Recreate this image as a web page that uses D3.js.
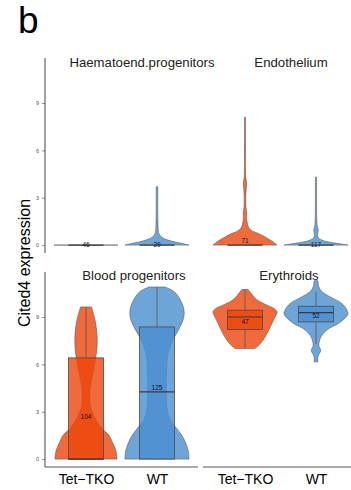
<!DOCTYPE html>
<html><head><meta charset="utf-8">
<script src="https://cdn.jsdelivr.net/npm/d3@7"></script>
<style>body{margin:0;background:#fff}svg{display:block}text{font-family:"Liberation Sans",Arial,Helvetica,sans-serif}</style>
</head><body>
<svg id="c" width="351" height="490"></svg>
<script>
// ---------- data ----------
const groups = ["Tet\u2212TKO", "WT"];
const panels = ["Haematoend.progenitors", "Endothelium", "Blood progenitors", "Erythroids"];
const yTicks = [0, 3, 6, 9];
const fillColors = ["#EC450A", "#4A8FD0"];

// violin profiles: [expression value, relative density (max = 1)]
const haemTKO = [[0, 1], [0, 1]];
const haemWT = [[0,1],[0.1,0.8],[0.2,0.56],[0.3,0.37],[0.45,0.19],[0.6,0.1],[0.8,0.05],[1.5,0.03],[3.7,0.025]];
const endoTKO = [[0,1],[0.2,0.88],[0.4,0.72],[0.6,0.56],[0.75,0.4],[0.9,0.22],[1.1,0.12],[1.4,0.07],[1.8,0.05],[2.0,0.055],[2.4,0.03],[3.0,0.025],[3.6,0.04],[3.9,0.05],[4.3,0.025],[5,0.018],[8.1,0.015]];
const endoWT = [[0,1],[0.1,0.7],[0.2,0.4],[0.3,0.2],[0.45,0.08],[0.6,0.05],[0.8,0.06],[0.95,0.07],[1.2,0.04],[1.6,0.025],[4.3,0.02]];
const bloodTKO = [[0,0.97],[0.5,0.94],[1,0.84],[1.5,0.72],[2,0.47],[2.5,0.31],[3,0.19],[3.5,0.125],[4,0.12],[4.5,0.13],[5,0.17],[5.5,0.22],[6,0.27],[6.5,0.31],[7,0.34],[7.5,0.35],[8,0.34],[8.5,0.31],[9,0.26],[9.64,0.17]];
const bloodWT = [[0,1],[0.5,0.98],[1,0.9],[1.5,0.78],[2,0.59],[2.5,0.41],[3,0.33],[3.5,0.3],[4,0.29],[5,0.29],[5.5,0.3],[6,0.31],[6.5,0.33],[7,0.39],[7.5,0.48],[8,0.62],[8.5,0.75],[9,0.84],[9.5,0.84],[10,0.75],[10.5,0.59],[10.7,0.47],[10.9,0.25]];
const eryTKO = [[7.0,0.31],[7.33,0.49],[7.95,0.69],[8.59,0.84],[9.0,0.94],[9.32,1],[9.55,0.9],[9.75,0.69],[10.0,0.44],[10.27,0.28],[10.5,0.19],[10.74,0.1]];
const eryWT = [[6.16,0.06],[6.5,0.06],[6.9,0.15],[7.1,0.1],[7.3,0.09],[7.76,0.16],[8.18,0.34],[8.6,0.71],[9.0,0.94],[9.22,1],[9.5,0.95],[9.85,0.81],[10.27,0.45],[10.6,0.19],[10.9,0.09],[11.3,0.06]];

// box stats per panel: [Tet-TKO, WT]
const q1s      = [[0,0],[0,0],[0,0],[8.2,8.69]];
const medians  = [[0,0],[0,0],[0,4.26],[9.0,9.28]];
const q3s      = [[0,0],[0,0],[6.41,8.37],[9.43,9.68]];
const whiskLo  = [[0,0],[0,0],[0,0],[7.0,7.3]];
const whiskHi  = [[0,0],[0,0],[9.64,10.9],[10.74,10.6]];
const counts   = [[46,29],[71,117],[104,125],[47,52]];
const labelAt  = [[0,0],[0.28,0],[2.7,4.55],[8.72,9.05]];
const violins  = [[haemTKO,haemWT],[endoTKO,endoWT],[bloodTKO,bloodWT],[eryTKO,eryWT]];

// ---------- layout ----------
const svg = d3.select("#c");
const panelX = [45, 203, 45, 203];
const panelW = [153, 148, 153, 148];
const panelTop = [58, 58, 272, 272];
const panelBot = [253, 253, 467, 467];
const titleX = [142, 291, 134, 289];
const titleY = [67, 67, 280, 280];
const xPoint = d3.scalePoint().domain(groups).range([41, 112]);
const wScale = d3.scaleLinear().domain([0, 1]).range([0, 32]);
const boxHalf = 17.5;

svg.append("text").attr("x", 18).attr("y", 33).attr("font-size", 37).attr("fill", "#000").text("b");
svg.append("text").attr("transform", "translate(30,263) rotate(-90)").attr("text-anchor", "middle")
  .attr("font-size", 16).attr("fill", "#000").text("Cited4 expression");

panels.forEach((p, pi) => {
  const x0 = panelX[pi] + (pi % 2 === 1 ? 1 : 0);
  const y = d3.scaleLinear().domain([-0.5, 11.85]).range([panelBot[pi], panelTop[pi]]);
  const g = svg.append("g");

  if (pi % 2 === 0) {
    const ax = g.append("g").attr("transform", `translate(${panelX[pi]},0)`)
      .call(d3.axisLeft(y).tickValues(yTicks).tickSize(3).tickPadding(3).tickFormat(d3.format("d")));
    ax.select(".domain").attr("d", `M0,${panelTop[pi]}V${panelBot[pi]}`).attr("stroke", "#444").attr("stroke-width", 1);
    ax.selectAll(".tick line").attr("stroke", "#444").attr("stroke-width", 0.6);
    ax.selectAll(".tick text").attr("font-size", 5.5).attr("fill", "#555").attr("font-family", "Liberation Sans, Arial, sans-serif");
  }
  if (pi >= 2) {
    const xs = d3.scalePoint().domain(groups).range([x0 + 41, x0 + 112]);
    const ax = g.append("g").attr("transform", `translate(0,${panelBot[pi]})`)
      .call(d3.axisBottom(xs).tickSize(0).tickPadding(7));
    ax.select(".domain").attr("d", `M${panelX[pi]},0H${panelX[pi] + panelW[pi]}`).attr("stroke", "#555").attr("stroke-width", 1);
    ax.selectAll(".tick text").attr("font-size", 14).attr("fill", "#000").attr("font-family", "Liberation Sans, Arial, sans-serif");
  }
  g.append("text").attr("x", titleX[pi]).attr("y", titleY[pi]).attr("text-anchor", "middle")
    .attr("font-size", 13.2).attr("fill", "#222").text(p);

  groups.forEach((grp, gi) => {
    const cx = x0 + xPoint(grp);
    const col = fillColors[gi];
    const area = d3.area().curve(d3.curveCatmullRom.alpha(0.5))
      .y(d => y(d[0])).x0(d => cx - wScale(d[1])).x1(d => cx + wScale(d[1]));
    const prof = violins[pi][gi];
    g.append("path").attr("d", area(prof) + "Z").attr("fill", col).attr("fill-opacity", 0.8)
      .attr("stroke", "#5a5a5a").attr("stroke-width", 0.6).attr("stroke-linejoin", "round");

    g.append("line").attr("x1", cx).attr("x2", cx).attr("y1", y(q3s[pi][gi])).attr("y2", y(whiskHi[pi][gi]))
      .attr("stroke", "#555").attr("stroke-width", 0.8);
    g.append("line").attr("x1", cx).attr("x2", cx).attr("y1", y(q1s[pi][gi])).attr("y2", y(whiskLo[pi][gi]))
      .attr("stroke", "#555").attr("stroke-width", 0.8);
    const yt = y(q3s[pi][gi]), yb = y(q1s[pi][gi]);
    g.append("rect").attr("x", cx - boxHalf).attr("width", boxHalf * 2).attr("y", yt).attr("height", yb - yt)
      .attr("fill", col).attr("fill-opacity", yb - yt > 0 ? 0.8 : 0)
      .attr("stroke", "#4a4a4a").attr("stroke-width", 0.8);
    g.append("line").attr("x1", cx - boxHalf).attr("x2", cx + boxHalf)
      .attr("y1", y(medians[pi][gi])).attr("y2", y(medians[pi][gi]))
      .attr("stroke", "#3a3a3a").attr("stroke-width", 1.2);
    g.append("text").attr("x", cx).attr("y", y(labelAt[pi][gi])).attr("dy", "0.35em")
      .attr("text-anchor", "middle").attr("font-size", 6.5).attr("fill", "#111").text(counts[pi][gi]);
  });
});
</script>
</body></html>
